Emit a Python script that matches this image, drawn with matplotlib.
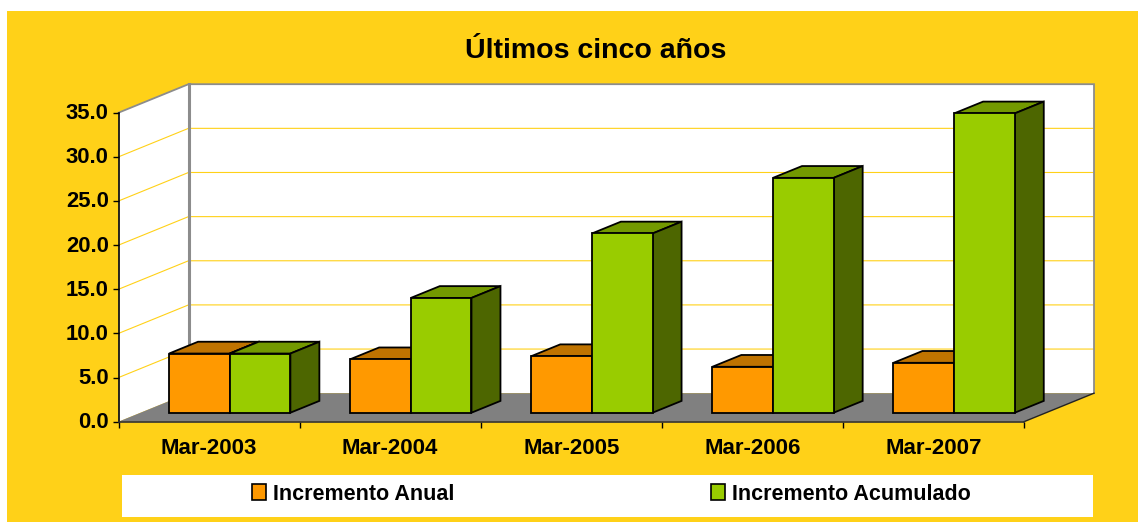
# plot.py
# Excel-style 3D clustered columns, drawn as sheared 2D polygons in data coords.
import matplotlib

matplotlib.use("Agg")
import matplotlib.pyplot as plt
from matplotlib.patches import Patch, Rectangle
from matplotlib.transforms import ScaledTranslation

plt.rcParams["font.family"] = ["Liberation Sans", "DejaVu Sans"]
plt.rcParams["font.weight"] = "bold"

categories = ["Mar-2003", "Mar-2004", "Mar-2005", "Mar-2006", "Mar-2007"]
anual = [6.7, 6.05, 6.4, 5.2, 5.65]
acumulado = [6.7, 13.0, 20.3, 26.6, 33.9]
y_ticks = [0, 5, 10, 15, 20, 25, 30, 35]
series_names = ["Incremento Anual", "Incremento Acumulado"]

W, H = 1138, 522
YELLOW = "#FFD118"
GRAY = "#808080"
# front plane corners in pixels
X0, X1, Y0, Y1 = 118.5, 1024.0, 421.7, 112.7
# wall depth in data units (70 px right, 28.5 px up)
DX = 70 / ((X1 - X0) / 5)
DY = 28.5 / ((Y0 - Y1) / 35)
# bars sit between these fractions of the depth
D0, D1 = 0.316, 0.73
LEFT, BW = 0.157, 0.335

fig = plt.figure(figsize=(W / 100, H / 100), dpi=100, facecolor="white")
fig.add_artist(Rectangle((7 / W, 0), 1 - 7 / W, 1 - 11 / H, color=YELLOW, lw=0,
                         transform=fig.transFigure, zorder=-2))
fig.add_artist(Rectangle((122.3 / W, 1 - 516.7 / H), 971 / W, 41.7 / H,
                         color="white", lw=0, transform=fig.transFigure, zorder=-1))

ax = fig.add_axes([X0 / W, 1 - Y0 / H, (X1 - X0) / W, (Y0 - Y1) / H])
ax.patch.set_visible(False)


def fill(xs, ys, **kw):
    ax.fill(xs, ys, clip_on=False, **kw)


# back wall, side wall, floor
fill([DX, 5 + DX, 5 + DX, DX], [DY, DY, 35 + DY, 35 + DY], color="white", lw=0,
     zorder=1)
fill([0, DX, DX, 0], [0, DY, 35 + DY, 35], color="white", lw=0, zorder=1)
fill([0, 5, 5 + DX, DX], [0, 0, DY, DY], color=GRAY, lw=0, zorder=1.2)

for v in y_ticks[1:-1]:
    ax.plot([0, DX, 5 + DX], [v, v + DY, v + DY], color=YELLOW, lw=0.8,
            clip_on=False, zorder=1.1)

# wall borders
ax.plot([0, DX, 5 + DX, 5 + DX], [35, 35 + DY, 35 + DY, DY], color="#8C8C8C",
        lw=1.3, clip_on=False, zorder=1.3, solid_joinstyle="miter")
ax.plot([DX, DX], [DY, 35 + DY], color="#8C8C8C", lw=2.2, clip_on=False, zorder=1.3)
ax.plot([5, 5 + DX], [0, DY], color="#222222", lw=1, clip_on=False, zorder=1.3)


def bar3d(x, v, face, top, side, z):
    dx, dy = (D1 - D0) * DX, (D1 - D0) * DY
    x += D0 * DX
    base = D0 * DY
    style = dict(edgecolor="black", lw=1.3, joinstyle="miter")
    fill([x, x + BW, x + BW + dx, x + dx],
         [base + v, base + v, base + v + dy, base + v + dy],
         facecolor=top, zorder=z, **style)
    fill([x + BW, x + BW + dx, x + BW + dx, x + BW],
         [base, base + dy, base + v + dy, base + v],
         facecolor=side, zorder=z, **style)
    ax.bar(x, v, BW, bottom=base, align="edge", color=face, zorder=z + 0.1,
           clip_on=False, **style)


for i, (a, b) in enumerate(zip(anual, acumulado)):
    z = 3 + i
    bar3d(i + LEFT, a, "#FF9900", "#BF7300", "#7F4C00", z)
    bar3d(i + LEFT + BW, b, "#99CC00", "#739900", "#4D6600", z + 0.3)

for name in ("top", "right"):
    ax.spines[name].set_visible(False)
ax.spines["left"].set_linewidth(1.2)
ax.spines["bottom"].set_linewidth(1.2)
ax.spines["bottom"].set_color("#333333")
ax.spines["left"].set_zorder(2)

ax.set_yticks(y_ticks)
ax.set_yticklabels([f"{v:.1f}" for v in y_ticks], fontsize=15.8, fontweight="bold")
ax.tick_params(axis="y", length=4, width=1, pad=3)
ax.set_xticks(range(6))
ax.set_xticklabels([])
ax.tick_params(axis="x", length=4, width=1)
ax.set_xticks([i + 0.5 for i in range(5)], minor=True)
ax.set_xticklabels(categories, minor=True, fontsize=16, fontweight="bold")
ax.tick_params(axis="x", which="minor", length=0, pad=11.5)
ax.set_xlim(0, 5)
ax.set_ylim(0, 35)

# y labels sit a little above their ticks
up = ScaledTranslation(0, 1.5 / 100, fig.dpi_scale_trans)
for lab in ax.get_yticklabels():
    lab.set_transform(lab.get_transform() + up)

fig.text(596 / W, 1 - 50.5 / H, "Últimos cinco años", ha="center", va="center",
         fontsize=20.5, fontweight="bold")

handles = [Patch(facecolor="#FF9900", edgecolor="black", lw=1.2),
           Patch(facecolor="#99CC00", edgecolor="black", lw=1.2)]
fig.legend(handles, series_names, ncol=2, loc="center", frameon=False,
           bbox_to_anchor=(611.5 / W, 1 - 494 / H), fontsize=15.5,
           handlelength=0.65, handleheight=0.7, handletextpad=0.32,
           columnspacing=11.92, borderpad=0, borderaxespad=0)

fig.savefig("out.png", dpi=100, facecolor=fig.get_facecolor())
